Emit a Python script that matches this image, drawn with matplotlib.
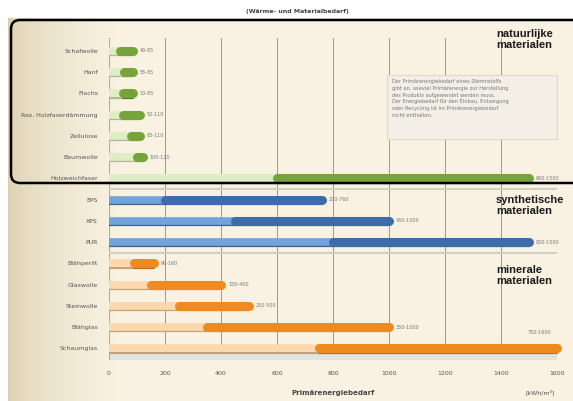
import matplotlib.pyplot as plt
import numpy as np
from matplotlib.patches import FancyBboxPatch, Rectangle

# Primärenergiebedarf je Dämmstoff, Spanne min-max in kWh/m³
NATURAL = ["Schafwolle", "Hanf", "Flachs", "Rez. Holzfaserdämmung", "Zellulose",
           "Baumwolle", "Holzweichfaser"]
NATURAL_MIN = [40, 55, 50, 50, 80, 100, 600]
NATURAL_MAX = [85, 85, 85, 110, 110, 120, 1500]

SYNTHETIC = ["EPS", "XPS", "PUR"]
SYNTHETIC_MIN = [200, 450, 800]
SYNTHETIC_MAX = [760, 1000, 1500]

MINERAL = ["Blähperlit", "Glaswolle", "Steinwolle", "Blähglas", "Schaumglas"]
MINERAL_MIN = [90, 150, 250, 350, 750]
MINERAL_MAX = [160, 400, 500, 1000, 1600]

XTICKS = [0, 200, 400, 600, 800, 1000, 1200, 1400, 1600]

GROUPS = [
    (NATURAL, NATURAL_MIN, NATURAL_MAX, "#dcefc4", "#76a43a", "#b7b49a", "#4f7a22"),
    (SYNTHETIC, SYNTHETIC_MIN, SYNTHETIC_MAX, "#72a3db", "#3d6ca8", "#3f6290", "#264c80"),
    (MINERAL, MINERAL_MIN, MINERAL_MAX, "#fdd8ae", "#ef8a20", "#c5a27c", "#c66a12"),
]

W, H = 573, 401
fig = plt.figure(figsize=(W / 100, H / 100), dpi=100)
fig.patch.set_facecolor("white")

# background card in pixel coordinates
bg = fig.add_axes([0, 0, 1, 1], zorder=0)
bg.set_xlim(0, W)
bg.set_ylim(H, 0)
bg.axis("off")
grad = np.linspace(0, 1, 256) ** 0.5
c0 = np.array([0.85, 0.80, 0.67])
c1 = np.array([0.975, 0.95, 0.885])
img = c0[None, :] * (1 - grad[:, None]) + c1[None, :] * grad[:, None]
img = np.clip(img, 0, 1)[None, :, :]
bg.imshow(np.concatenate([img] * 2, axis=0), extent=(8, 120, H, 18), aspect="auto")
bg.add_patch(Rectangle((120, 18), W - 120, H - 18, color=c1))
bg.text(297, 12, "(Wärme- und Materialbedarf)", fontsize=4.5, ha="center",
        va="center", color="#444444", fontweight="bold")

ax = fig.add_axes([109 / W, 1 - 360 / H, 448 / W, 322 / H], zorder=1)
ax.patch.set_alpha(0)

labels = []
row = 0
for names, lows, highs, light, dark, shade_light, shade_dark in GROUPS:
    for name, lo, hi in zip(names, lows, highs):
        labels.append(name)
        ax.plot([0, lo], [row + 0.2, row + 0.2], lw=1.6, color=shade_light,
                solid_capstyle="butt", zorder=3)
        ax.plot([lo, hi], [row + 0.2, row + 0.2], lw=1.6, color=shade_dark,
                solid_capstyle="round", zorder=3, clip_on=False)
        ax.plot([0, lo], [row, row], lw=5.5, color=light,
                solid_capstyle="butt", zorder=4)
        ax.plot([lo, hi], [row, row], lw=6.5, color=dark,
                solid_capstyle="round", zorder=5, clip_on=False)
        if hi >= 1600:
            ax.text(hi - 20, row - 0.75, f"{lo}-{hi}", fontsize=3.5,
                    color="#777777", ha="right", va="center")
        else:
            ax.text(hi + 25, row, f"{lo}-{hi}", fontsize=3.5,
                    color="#777777", ha="left", va="center")
        row += 1

n = len(labels)
ax.set_xlim(0, 1600)
ax.set_ylim(n - 0.45, -0.6)
ax.set_yticks(range(n))
ax.set_yticklabels(labels, fontsize=4.5, color="#555555")
ax.set_xticks(XTICKS)
ax.set_xticklabels([str(t) for t in XTICKS], fontsize=4.5, color="#555555")
ax.tick_params(length=0, pad=8)
ax.grid(axis="x", color="#8a8a80", lw=0.6)
ax.set_axisbelow(True)
for s in ax.spines.values():
    s.set_visible(False)
ax.axvline(0, color="#b0ab98", lw=0.8)

# group separators and 3D floor
for y in [len(NATURAL) - 0.5, len(NATURAL) + len(SYNTHETIC) - 0.5]:
    ax.axhline(y, color="#d2cfc4", lw=1.5, zorder=2)
ax.axhspan(n - 0.45, n - 0.75, color="#dfe4e4", zorder=1)

ax.set_xlabel("Primärenergiebedarf", fontsize=5, color="#444444",
              fontweight="bold", labelpad=10)
fig.text(540 / W, 1 - 392 / H, "[kWh/m³]", fontsize=4.5, color="#555555",
         ha="center", va="center")

# overlay: group titles, note, frame
ov = fig.add_axes([0, 0, 1, 1], zorder=2)
ov.set_xlim(0, W)
ov.set_ylim(H, 0)
ov.axis("off")
ov.patch.set_alpha(0)
ov.add_patch(FancyBboxPatch((11, 20), 600, 163,
                            boxstyle="round,pad=0,rounding_size=9",
                            fill=False, ec="black", lw=1.8))
title_font = dict(fontsize=8, fontweight="bold", family="Liberation Sans",
                  color="#1a1a1a", ha="left", va="top", linespacing=1.1)
ov.text(496, 29, "natuurlijke\nmaterialen", **title_font)
ov.text(496, 195, "synthetische\nmaterialen", **title_font)
ov.text(496, 265, "minerale\nmaterialen", **title_font)

note = ("Der Primärenergiebedarf eines Dämmstoffs\n"
        "gibt an, wieviel Primärenergie zur Herstellung\n"
        "des Produkts aufgewendet werden muss.\n"
        "Der Energiebedarf für den Einbau, Entsorgung\n"
        "oder Recycling ist im Primärenergiebedarf\n"
        "nicht enthalten.")
ov.add_patch(Rectangle((387, 75), 170, 64, fc="#f3efe6", ec="#dedad0", lw=0.8))
ov.text(392, 79, note, fontsize=3.6, color="#777777", ha="left", va="top",
        linespacing=1.45)

fig.savefig("out.png", dpi=100)
